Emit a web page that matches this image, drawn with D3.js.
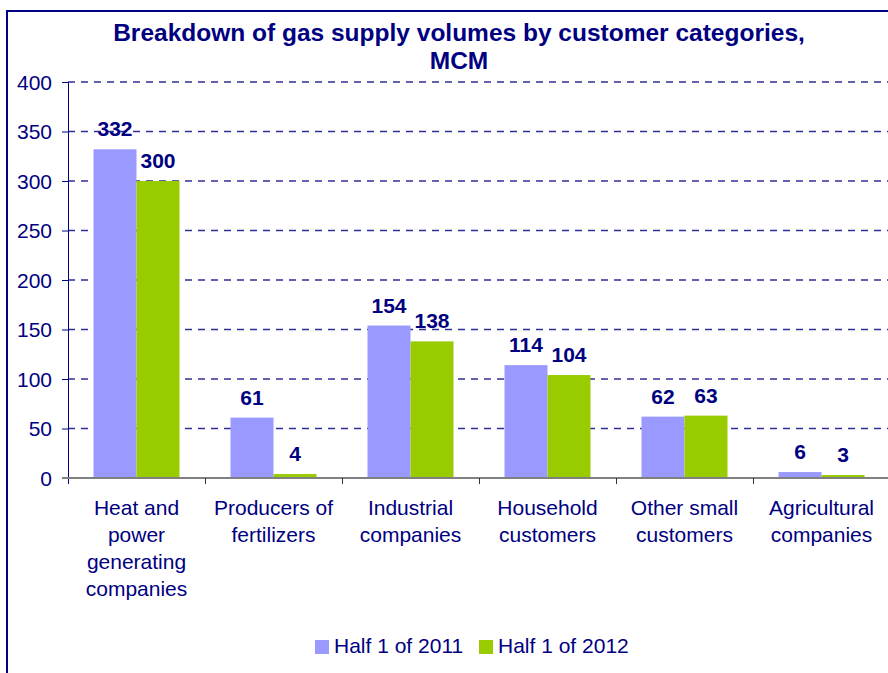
<!DOCTYPE html>
<html>
<head>
<meta charset="utf-8">
<script src="https://cdn.jsdelivr.net/npm/d3@7"></script>
<style>
  body { margin: 0; background: #fff; }
  text { font-family: "Liberation Sans", Arial, sans-serif; fill: #000080; }
</style>
</head>
<body>
<div id="chart"></div>
<script>
// ---------------------- data ----------------------
var categories = ["Heat and power generating companies", "Producers of fertilizers",
  "Industrial companies", "Household customers", "Other small customers", "Agricultural companies"];
var tickLabels = [["Heat and", "power", "generating", "companies"], ["Producers of", "fertilizers"],
  ["Industrial", "companies"], ["Household", "customers"], ["Other small", "customers"],
  ["Agricultural", "companies"]];
var seriesNames = ["Half 1 of 2011", "Half 1 of 2012"];
var h2011 = [332, 61, 154, 114, 62, 6];
var h2012 = [300, 4, 138, 104, 63, 3];
var yTicks = [0, 50, 100, 150, 200, 250, 300, 350, 400];
var colors = ["#9999ff", "#99cc00"];

var navy = "#000080";

// ---------------------- svg + frame ----------------------
var svg = d3.select("#chart")
  .append("svg")
  .attr("width", 888)
  .attr("height", 673);

svg.append("rect")
  .attr("x", 7).attr("y", 11)
  .attr("width", 920).attr("height", 700)
  .attr("fill", "none")
  .attr("stroke", navy)
  .attr("stroke-width", 2);

// title
svg.append("text")
  .attr("x", 459).attr("y", 41)
  .attr("text-anchor", "middle")
  .style("font-size", "24.5px").style("font-weight", "bold")
  .text("Breakdown of gas supply volumes by customer categories,");
svg.append("text")
  .attr("x", 459).attr("y", 69)
  .attr("text-anchor", "middle")
  .style("font-size", "24.5px").style("font-weight", "bold")
  .text("MCM");

// ---------------------- scales ----------------------
var x = d3.scaleBand().domain(categories).range([68, 890]).padding(0);
var xs = d3.scaleBand().domain(seriesNames).range([0, x.bandwidth()])
  .paddingInner(0).paddingOuter(0.593);
var y = d3.scaleLinear().domain([0, 400]).range([478, 82]);

// gridlines
svg.append("g").selectAll("line")
  .data(yTicks.filter(function (d) { return d > 0; }))
  .enter().append("line")
  .attr("x1", 68).attr("x2", 888)
  .attr("y1", function (d) { return y(d); })
  .attr("y2", function (d) { return y(d); })
  .attr("stroke", "#2e2e96")
  .attr("stroke-width", 1.5)
  .attr("stroke-dasharray", "7,6");

// y axis
var yAxis = svg.append("g")
  .attr("transform", "translate(68,0)")
  .call(d3.axisLeft(y).tickValues(yTicks).tickSize(6).tickPadding(10));
yAxis.select(".domain").attr("stroke", navy).attr("d", "M0.5,82V484");
yAxis.selectAll(".tick line").attr("stroke", navy);
yAxis.selectAll(".tick text")
  .style("font-size", "21px")
  .attr("fill", navy)
  .attr("font-family", "'Liberation Sans', Arial, sans-serif")
  .attr("dy", "0.34em");

// ---------------------- bars ----------------------
var series = [h2011, h2012];
var groups = svg.append("g").selectAll("g")
  .data(series)
  .enter().append("g")
  .attr("fill", function (d, i) { return colors[i]; });

groups.selectAll("rect")
  .data(function (d, i) { return d.map(function (v, j) { return { s: i, c: categories[j], v: v }; }); })
  .enter().append("rect")
  .attr("x", function (d) { return x(d.c) + xs(seriesNames[d.s]); })
  .attr("y", function (d) { return y(d.v); })
  .attr("width", xs.bandwidth())
  .attr("height", function (d) { return y(0) - y(d.v); });

// value labels
groups.selectAll("text")
  .data(function (d, i) { return d.map(function (v, j) { return { s: i, c: categories[j], v: v }; }); })
  .enter().append("text")
  .attr("x", function (d) { return x(d.c) + xs(seriesNames[d.s]) + xs.bandwidth() / 2; })
  .attr("y", function (d) { return y(d.v) - 13; })
  .attr("text-anchor", "middle")
  .style("font-size", "21px").style("font-weight", "bold")
  .text(function (d) { return d.v; });

// ---------------------- x axis ----------------------
svg.append("line")
  .attr("x1", 62).attr("x2", 888)
  .attr("y1", y(0)).attr("y2", y(0))
  .attr("stroke", "#808080").attr("stroke-width", 2);

svg.append("g").selectAll("line")
  .data(categories.slice(1))
  .enter().append("line")
  .attr("x1", function (d) { return x(d) + 0.5; })
  .attr("x2", function (d) { return x(d) + 0.5; })
  .attr("y1", y(0)).attr("y2", y(0) + 6)
  .attr("stroke", "#333");

svg.append("g").selectAll("text")
  .data(categories)
  .enter().append("text")
  .attr("x", function (d) { return x(d) + x.bandwidth() / 2; })
  .attr("y", 515)
  .attr("text-anchor", "middle")
  .style("font-size", "21px")
  .each(function (d, i) {
    d3.select(this).selectAll("tspan")
      .data(tickLabels[i])
      .enter().append("tspan")
      .attr("x", x(d) + x.bandwidth() / 2)
      .attr("dy", function (t, k) { return k === 0 ? 0 : 27; })
      .text(function (t) { return t; });
  });

// ---------------------- legend ----------------------
var legendX = [315, 479];
var legend = svg.append("g").selectAll("g")
  .data(seriesNames)
  .enter().append("g")
  .attr("transform", function (d, i) { return "translate(" + legendX[i] + ",640)"; });
legend.append("rect")
  .attr("width", 14).attr("height", 14)
  .attr("fill", function (d, i) { return colors[i]; });
legend.append("text")
  .attr("x", 19).attr("y", 13)
  .style("font-size", "21px")
  .text(function (d) { return d; });
</script>
</body>
</html>
